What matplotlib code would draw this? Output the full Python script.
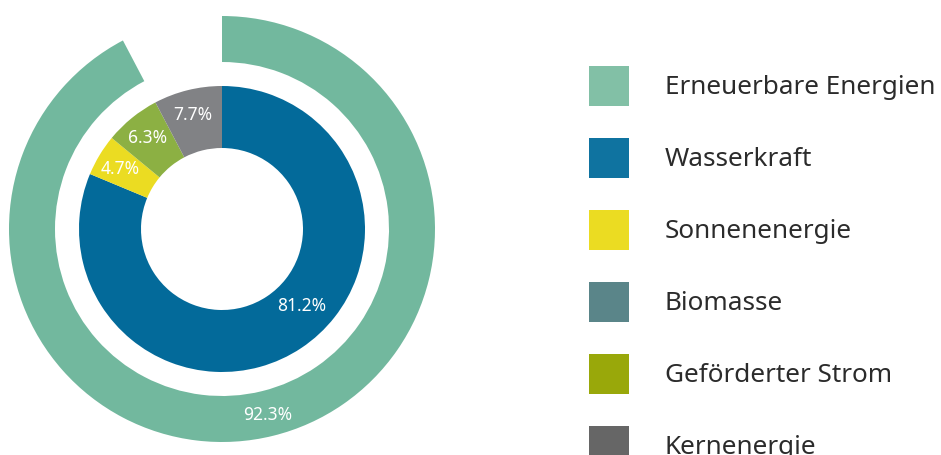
import matplotlib
matplotlib.use("Agg")
import matplotlib.pyplot as plt
from matplotlib.patches import Rectangle
import numpy as np

# ---- data ----
outer_labels = ["Erneuerbare Energien", "Rest"]
outer_values = [92.3, 7.7]
inner_labels = ["Wasserkraft", "Sonnenenergie", "Geförderter Strom", "Kernenergie"]
inner_values = [81.2, 4.7, 6.3, 7.7]
legend_labels = ["Erneuerbare Energien", "Wasserkraft", "Sonnenenergie",
                 "Biomasse", "Geförderter Strom", "Kernenergie"]
legend_colors = ["#82c0a6", "#0f73a0", "#ebdc22", "#5a8589", "#99a80a", "#666666"]

outer_color = "#72b89e"
inner_colors = ["#036a9a", "#ebdc22", "#8cb043", "#818285"]

plt.rcParams['font.family'] = ['Noto Sans', 'DejaVu Sans']

W, H = 941, 455
fig = plt.figure(figsize=(W / 100, H / 100), dpi=100)
ax = fig.add_axes([0, 0, 1, 1])

cx, cy = 222, H - 229

# outer ring
R_out, w_out = 213, 46
ax.pie(outer_values, radius=R_out, center=(cx, cy), startangle=90,
       counterclock=False, colors=[outer_color, (1, 1, 1, 0)],
       wedgeprops=dict(width=w_out, linewidth=0), frame=True)

# inner ring
R_in, w_in = 143, 62
ax.pie(inner_values, radius=R_in, center=(cx, cy), startangle=90,
       counterclock=False, colors=inner_colors,
       wedgeprops=dict(width=w_in, linewidth=0), frame=True)

ax.set_xlim(0, W)
ax.set_ylim(0, H)
ax.set_aspect('equal')
ax.axis('off')

def fmt(v):
    return f"{v:.1f}%"

# outer label
mid = outer_values[0] / 2 / 100 * 360
r = R_out - w_out / 2 + 2
ax.text(cx + r * np.sin(np.radians(mid)), cy + r * np.cos(np.radians(mid)),
        fmt(outer_values[0]), color="white", fontsize=12.5,
        ha="center", va="center")

# inner labels
cum = 0
for i, v in enumerate(inner_values):
    mid = (cum + v / 2) / 100 * 360
    cum += v
    if i == 0:
        ang, r = mid - 12, 111
    else:
        ang, r = mid, 118
    ax.text(cx + r * np.sin(np.radians(ang)), cy + r * np.cos(np.radians(ang)),
            fmt(v), color="white", fontsize=12.5, ha="center", va="center")

# legend
x0, y_top, size, step = 589, 66, 40, 72
for i, (lab, col) in enumerate(zip(legend_labels, legend_colors)):
    yt = y_top + i * step
    ax.add_patch(Rectangle((x0, H - yt - size), size, size, color=col, lw=0))
    ax.text(665, H - yt - size / 2 - 1.5, lab, fontsize=18.8, color="#2b2b2b",
            ha="left", va="center")

fig.savefig("out.png", dpi=100)
